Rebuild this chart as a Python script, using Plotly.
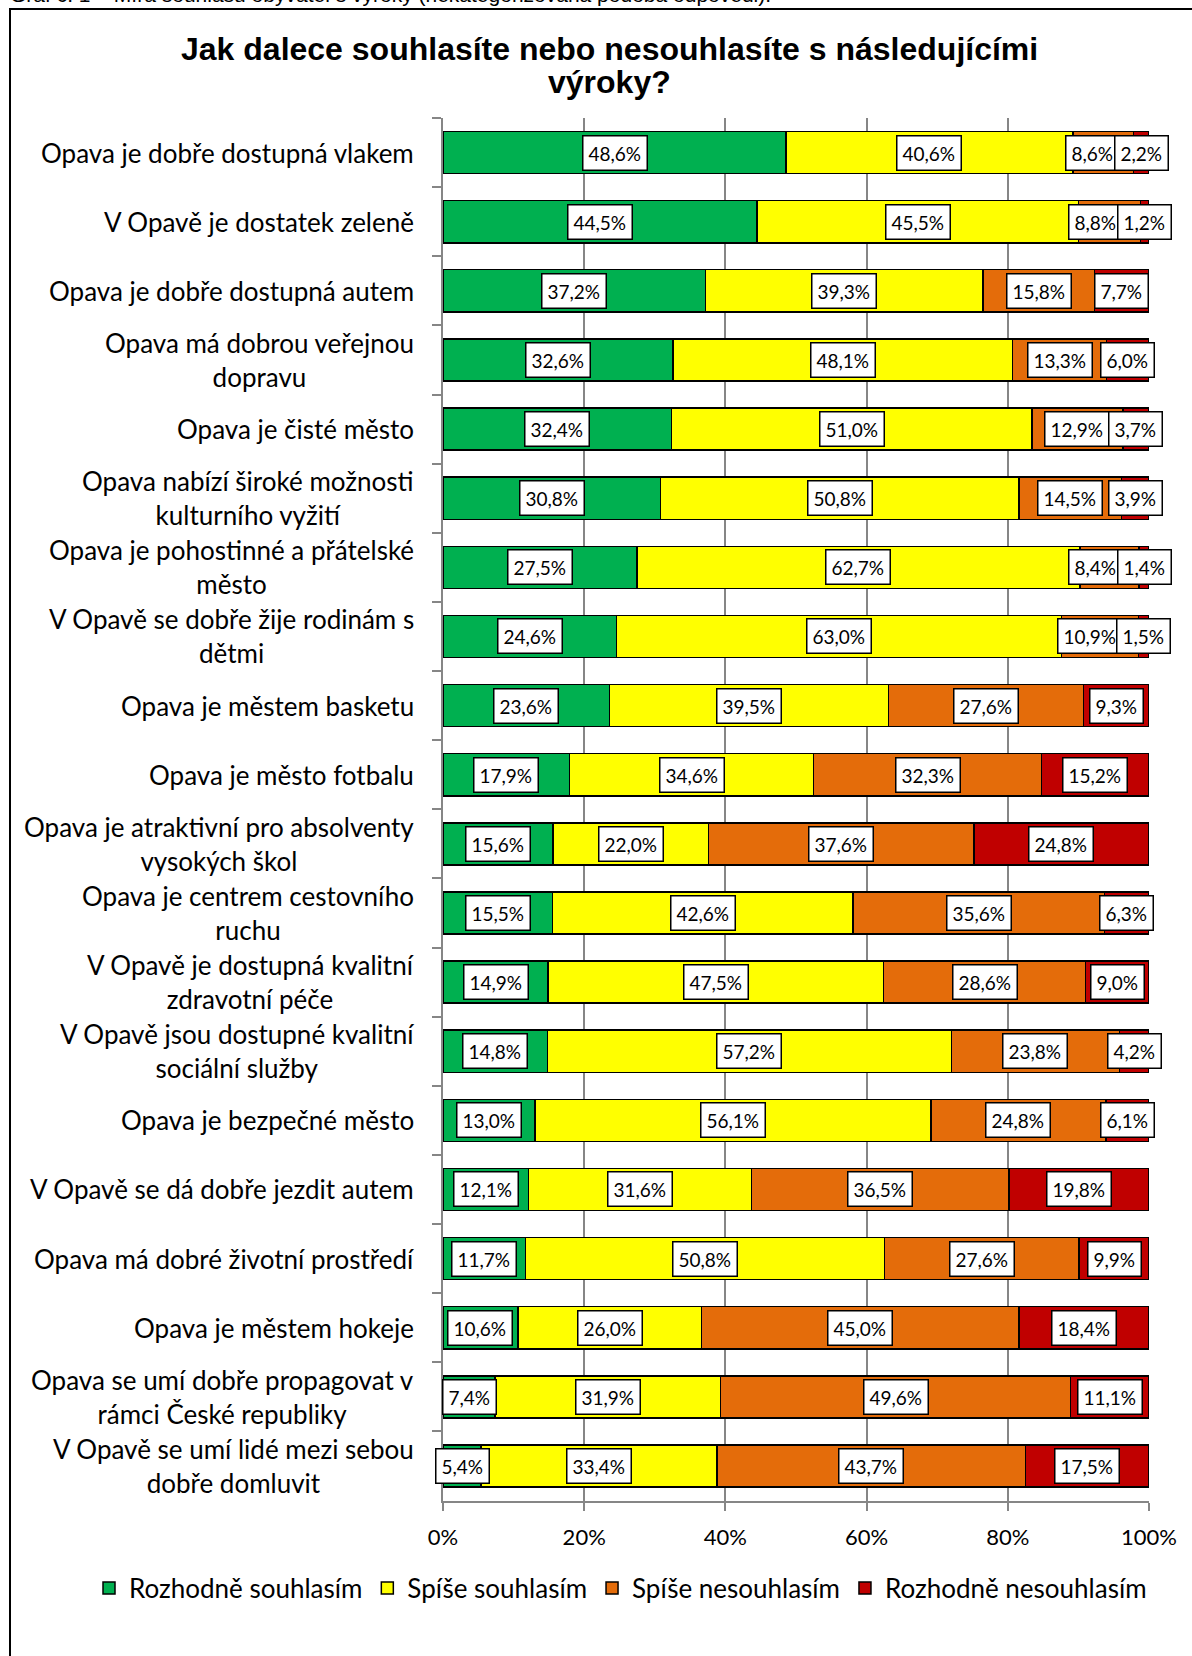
import plotly.graph_objects as go

W, H = 1192, 1656
ML, MR, MT, MB = 443, 43, 118, 155

categories = [
    "Opava je dobře dostupná vlakem",
    "V Opavě je dostatek zeleně",
    "Opava je dobře dostupná autem",
    "Opava má dobrou veřejnou<br>dopravu",
    "Opava je čisté město",
    "Opava nabízí široké možnosti<br>kulturního vyžití",
    "Opava je pohostinné a přátelské<br>město",
    "V Opavě se dobře žije rodinám s<br>dětmi",
    "Opava je městem basketu",
    "Opava je město fotbalu",
    "Opava je atraktivní pro absolventy<br>vysokých škol",
    "Opava je centrem cestovního<br>ruchu",
    "V Opavě je dostupná kvalitní<br>zdravotní péče",
    "V Opavě jsou dostupné kvalitní<br>sociální služby",
    "Opava je bezpečné město",
    "V Opavě se dá dobře jezdit autem",
    "Opava má dobré životní prostředí",
    "Opava je městem hokeje",
    "Opava se umí dobře propagovat v<br>rámci České republiky",
    "V Opavě se umí lidé mezi sebou<br>dobře domluvit",
]

rozhodne_souhlasim = [48.6, 44.5, 37.2, 32.6, 32.4, 30.8, 27.5, 24.6, 23.6, 17.9,
                      15.6, 15.5, 14.9, 14.8, 13.0, 12.1, 11.7, 10.6, 7.4, 5.4]
spise_souhlasim = [40.6, 45.5, 39.3, 48.1, 51.0, 50.8, 62.7, 63.0, 39.5, 34.6,
                   22.0, 42.6, 47.5, 57.2, 56.1, 31.6, 50.8, 26.0, 31.9, 33.4]
spise_nesouhlasim = [8.6, 8.8, 15.8, 13.3, 12.9, 14.5, 8.4, 10.9, 27.6, 32.3,
                     37.6, 35.6, 28.6, 23.8, 24.8, 36.5, 27.6, 45.0, 49.6, 43.7]
rozhodne_nesouhlasim = [2.2, 1.2, 7.7, 6.0, 3.7, 3.9, 1.4, 1.5, 9.3, 15.2,
                        24.8, 6.3, 9.0, 4.2, 6.1, 19.8, 9.9, 18.4, 11.1, 17.5]

series_names = ["Rozhodně souhlasím", "Spíše souhlasím", "Spíše nesouhlasím", "Rozhodně nesouhlasím"]
series_values = [rozhodne_souhlasim, spise_souhlasim, spise_nesouhlasim, rozhodne_nesouhlasim]
COLORS = ["#00B050", "#FFFF00", "#E46C0A", "#C00000"]

x_ticks = [0, 20, 40, 60, 80, 100]
x_tick_labels = ["0%", "20%", "40%", "60%", "80%", "100%"]

FONT = "Lato, 'Open Sans', sans-serif"
TITLE_FONT = "'Liberation Sans', Arial, sans-serif"
GRID = "#868686"

# pixel -> paper helpers (paper = plot area)
PW, PH = W - ML - MR, H - MT - MB
PX_PER_PCT = PW / 100


def px_x(x):
    return (x - ML) / PW


def px_y(y):
    return 1 - (y - MT) / PH


def fmt(v):
    return f"{v:.1f}%".replace(".", ",")


def label_w(text):
    # rough width of a boxed data label in px
    return 9 * len(text) + 13


fig = go.Figure()
for name, vals, col in zip(series_names, series_values, COLORS):
    fig.add_trace(go.Bar(
        y=categories, x=vals, name=name, orientation="h",
        marker=dict(color=col, line=dict(color="#000000", width=1.5)),
        width=0.61, hoverinfo="x+y",
    ))

annotations = []
# data labels centred on each segment; a label is nudged left only when it
# would run into the box of the next segment's label
for i, cat in enumerate(categories):
    row = [vals[i] for vals in series_values]
    centres, start = [], 0.0
    for v in row:
        centres.append(start + v / 2)
        start += v
    shifts = [0.0] * len(row)
    for k in range(len(row) - 2, -1, -1):
        right_px = (centres[k] + shifts[k]) * PX_PER_PCT + label_w(fmt(row[k])) / 2
        next_left = (centres[k + 1] + shifts[k + 1]) * PX_PER_PCT - label_w(fmt(row[k + 1])) / 2
        if right_px > next_left:
            shifts[k] -= (right_px - next_left) / PX_PER_PCT
    for k, v in enumerate(row):
        annotations.append(dict(
            x=centres[k] + shifts[k], y=cat, xref="x", yref="y",
            text=fmt(v), showarrow=False,
            font=dict(family=FONT, size=19, color="#000000"),
            bgcolor="#FFFFFF", bordercolor="#000000", borderwidth=1.5, borderpad=5,
        ))

# category labels (centred lines, right aligned block)
for c in categories:
    annotations.append(dict(
        x=0, y=c, xref="paper", yref="y", xanchor="right", xshift=-27,
        text=c, align="center", showarrow=False,
        font=dict(family=FONT, size=26, color="#000000"),
    ))

# title, two lines set tight like the original
for line, ypx in [("Jak dalece souhlasíte nebo nesouhlasíte s následujícími", 49), ("výroky?", 82)]:
    annotations.append(dict(
        x=px_x(609), y=px_y(ypx), xref="paper", yref="paper", xanchor="center", yanchor="middle",
        text=f"<b>{line}</b>", showarrow=False,
        font=dict(family=TITLE_FONT, size=32, color="#000000"),
    ))

# cut-off caption above the frame
annotations.append(dict(
    x=px_x(8), y=px_y(8), xref="paper", yref="paper", xanchor="left", yanchor="bottom",
    text="Graf č. 1 – Míra souhlasu obyvatel s výroky (nekategorizovaná podoba odpovědi).",
    showarrow=False, font=dict(family=TITLE_FONT, size=21, color="#000000"),
))

fig.update_layout(
    width=W, height=H,
    margin=dict(l=ML, r=MR, t=MT, b=MB),
    paper_bgcolor="#FFFFFF", plot_bgcolor="#FFFFFF",
    barmode="stack", bargap=0.39,
    xaxis=dict(
        range=[0, 100], tickvals=x_ticks, ticktext=x_tick_labels,
        showgrid=True, gridcolor=GRID, gridwidth=1.5,
        showline=True, linecolor=GRID, linewidth=1.5,
        ticks="outside", ticklen=8, tickcolor=GRID, tickwidth=1.5,
        ticklabelstandoff=8,
        tickfont=dict(family=FONT, size=22, color="#000000"),
        zeroline=False, fixedrange=True,
    ),
    yaxis=dict(
        autorange="reversed", showticklabels=False, tickson="boundaries",
        ticks="outside", ticklen=9, tickcolor=GRID, tickwidth=1.5,
        showline=True, linecolor=GRID, linewidth=1.5, showgrid=False,
        fixedrange=True,
    ),
    legend=dict(
        orientation="h", traceorder="normal",
        x=px_x(89), xanchor="left", xref="paper",
        y=px_y(1588), yanchor="middle", yref="paper",
        font=dict(family=FONT, size=26, color="#000000"),
        itemwidth=30, tracegroupgap=0,
    ),
    annotations=annotations,
    shapes=[dict(
        type="rect", xref="paper", yref="paper",
        x0=px_x(10), x1=px_x(1210), y0=px_y(1680), y1=px_y(9),
        line=dict(color="#000000", width=2), fillcolor="rgba(0,0,0,0)", layer="above",
    )],
    showlegend=True,
)

fig.write_html("out.html", config={"displayModeBar": False},
               post_script="document.body.style.margin='0';")
